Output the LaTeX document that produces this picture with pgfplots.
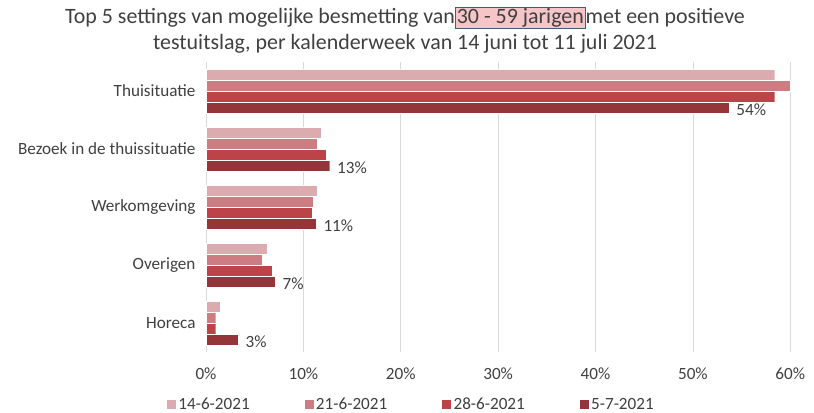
\documentclass[border=0pt]{standalone}
\usepackage{pgfplots}
\pgfplotsset{compat=1.18}
\usepackage{fontspec}
\setmainfont{Carlito}
\definecolor{wkA}{HTML}{DCABAF}
\definecolor{wkB}{HTML}{CD7D81}
\definecolor{wkC}{HTML}{BC4448}
\definecolor{wkD}{HTML}{933539}
\definecolor{txt}{HTML}{404040}
\definecolor{hlfill}{HTML}{F5C5C7}
\definecolor{hlline}{HTML}{3F5F78}
\begin{document}
\begin{tikzpicture}
\path[use as bounding box] (0,0) rectangle (814bp,413bp);
\begin{axis}[
  at={(206bp,61bp)}, anchor=south west,
  width=594bp, height=290bp, scale only axis,
  xmin=0, xmax=61, ymin=-0.5, ymax=4.5,
  y dir=reverse,
  xbar, bar width=11bp,
  axis line style={draw=none},
  xmajorgrids, grid style={gray!30, line width=0.6pt},
  xtick={0,10,...,60},
  xticklabel={\pgfmathprintnumber{\tick}\%},
  /pgf/number format/assume math mode=true,
  ytick={0,1,2,3,4},
  yticklabels={Thuisituatie, Bezoek in de thuissituatie, Werkomgeving, Overigen, Horeca},
  major tick length=0pt,
  tick label style={font=\fontsize{17.2}{20}\selectfont, text=txt},
  yticklabel style={xshift=-7bp},
  xticklabel style={yshift=-12bp},
  legend style={at={(0.345,-0.18)}, anchor=center, draw=none,
    legend columns=4, font=\fontsize{17.2}{20}\selectfont, text=txt,
    /tikz/every even column/.append style={column sep=52bp}},
  legend image code/.code={\fill[#1] (0bp,-5bp) rectangle (10bp,5bp);},
  every axis plot/.append style={draw=white, line width=0.3pt},
]
\addplot[fill=wkA, bar shift=16.5bp] coordinates {(58.4,0) (11.8,1) (11.4,2) (6.3,3) (1.5,4)};
\addplot[fill=wkB, bar shift=5.5bp] coordinates {(60.0,0) (11.4,1) (11.0,2) (5.8,3) (1.0,4)};
\addplot[fill=wkC, bar shift=-5.5bp] coordinates {(58.4,0) (12.3,1) (10.9,2) (6.8,3) (1.0,4)};
\addplot[fill=wkD, bar shift=-16.5bp,
  point meta=explicit symbolic, nodes near coords,
  every node near coord/.append style={anchor=west, xshift=4bp, yshift=-2bp,
    font=\fontsize{17.2}{20}\selectfont, text=txt}]
  coordinates {(53.7,0) [54\%] (12.7,1) [13\%] (11.3,2) [11\%] (7.1,3) [7\%] (3.3,4) [3\%]};
\legend{14-6-2021, 21-6-2021, 28-6-2021, 5-7-2021}
\end{axis}
\node[text=txt, font=\fontsize{22}{26}\selectfont] at (405bp,395bp)
  {Top 5 settings van mogelijke besmetting van{\fboxsep=1pt\fboxrule=0.9pt\fcolorbox{hlline}{hlfill}{30 - 59 jarigen}}met een positieve};
\node[text=txt, font=\fontsize{22}{26}\selectfont] at (405bp,369bp)
  {testuitslag, per kalenderweek van 14 juni tot 11 juli 2021};
\end{tikzpicture}
\end{document}
